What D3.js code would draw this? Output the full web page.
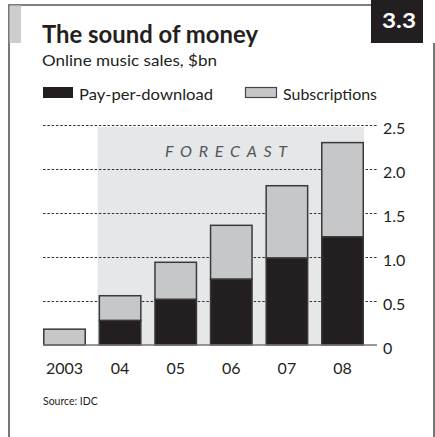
<!DOCTYPE html>
<html>
<head>
<meta charset="utf-8">
<script src="https://cdn.jsdelivr.net/npm/d3@7/dist/d3.min.js"></script>
<style>
  html, body { margin: 0; padding: 0; background: #fff; }
  svg { display: block; font-family: Lato, "Open Sans", sans-serif; }
</style>
</head>
<body>
<svg id="chart" width="435" height="437"></svg>
<script>
// Online music sales, $bn
const years = ["2003", "04", "05", "06", "07", "08"];
const payPerDownload = [0, 0.28, 0.52, 0.75, 0.99, 1.23];
const subscriptions = [0.18, 0.28, 0.42, 0.61, 0.82, 1.07];
const yTicks = [0, 0.5, 1.0, 1.5, 2.0, 2.5];
const forecastYears = ["04", "05", "06", "07", "08"];

const svg = d3.select("#chart");
const W = 435, H = 437;

const colBlack = "#231f20";
const colGrey = "#c6c7c8";
const colShade = "#e6e7e8";

// frame
const frame = svg.append("g");
frame.append("path")
  .attr("d", `M9,${H} V5 H371`)
  .attr("fill", "none").attr("stroke", "#555").attr("stroke-width", 1.6);
frame.append("path")
  .attr("d", `M434,43 V${H}`)
  .attr("fill", "none").attr("stroke", "#555").attr("stroke-width", 1.6);
frame.append("rect").attr("x", 9.5).attr("y", 5.5).attr("width", 11.5).attr("height", 37.5).attr("fill", "#cdcdcd");
frame.append("rect").attr("x", 371).attr("y", 0).attr("width", 52).attr("height", 43).attr("fill", colBlack);
frame.append("text").attr("x", 399).attr("y", 28).attr("text-anchor", "middle")
  .attr("fill", "#fff").attr("font-weight", 700).attr("font-size", 21)
  .attr("textLength", 34).attr("lengthAdjust", "spacingAndGlyphs").text("3.3");

// titles
svg.append("text").attr("x", 42).attr("y", 43)
  .attr("font-weight", 700).attr("font-size", 24).attr("fill", colBlack)
  .attr("textLength", 216).attr("lengthAdjust", "spacingAndGlyphs")
  .text("The sound of money");
svg.append("text").attr("x", 42).attr("y", 66)
  .attr("font-size", 16).attr("fill", colBlack)
  .attr("textLength", 175).attr("lengthAdjust", "spacingAndGlyphs")
  .text("Online music sales, $bn");

// legend
const legend = svg.append("g");
legend.append("rect").attr("x", 43).attr("y", 87).attr("width", 30).attr("height", 11).attr("fill", colBlack);
legend.append("text").attr("x", 79).attr("y", 100).attr("font-size", 16).attr("fill", colBlack)
  .attr("textLength", 134).attr("lengthAdjust", "spacingAndGlyphs").text("Pay-per-download");
legend.append("rect").attr("x", 245.5).attr("y", 87.5).attr("width", 31).attr("height", 10)
  .attr("fill", colGrey).attr("stroke", "#444").attr("stroke-width", 1.2);
legend.append("text").attr("x", 283).attr("y", 100).attr("font-size", 16).attr("fill", colBlack)
  .attr("textLength", 94).attr("lengthAdjust", "spacingAndGlyphs").text("Subscriptions");

// scales
const x = d3.scaleBand().domain(years).range([43, 364]).paddingInner(0.227).paddingOuter(0);
const y = d3.scaleLinear().domain([0, 2.5]).range([345, 125]);
const gridLeft = 43, gridRight = 377;

// forecast shading
const fx0 = x(forecastYears[0]) - 1;
const fx1 = x(forecastYears[forecastYears.length - 1]) + x.bandwidth();
svg.append("rect")
  .attr("x", fx0).attr("y", y(2.5) + 2)
  .attr("width", fx1 - fx0).attr("height", y(0) - y(2.5) - 2)
  .attr("fill", colShade);
svg.append("text")
  .attr("x", 165).attr("y", 157)
  .attr("font-style", "italic")
  .attr("font-size", 16).attr("fill", "#555")
  .attr("textLength", 122).attr("lengthAdjust", "spacing")
  .text("FORECAST");

// gridlines
svg.append("g").selectAll("line").data(yTicks.filter(d => d > 0)).join("line")
  .attr("x1", gridLeft).attr("x2", gridRight)
  .attr("y1", d => Math.round(y(d)) + 0.5).attr("y2", d => Math.round(y(d)) + 0.5)
  .attr("stroke", "#333").attr("stroke-width", 1).attr("stroke-dasharray", "2.5,1.8");

// y axis labels on the right
const yAxis = d3.axisRight(y).tickValues(yTicks)
  .tickFormat(d => d === 0 ? "0" : d3.format(".1f")(d))
  .tickSize(0).tickPadding(6);
const yg = svg.append("g").attr("transform", `translate(${gridRight},0)`).call(yAxis);
yg.select(".domain").remove();
yg.selectAll("text").attr("font-size", 16).attr("fill", colBlack).attr("dy", "0.55em")
  .attr("font-family", "Lato, 'Open Sans', sans-serif");

// stacked bars
const rows = years.map((yr, i) => ({ yr, pay: payPerDownload[i], sub: subscriptions[i] }));
const stack = d3.stack().keys(["pay", "sub"])(rows);
const fills = { pay: colBlack, sub: colGrey };
svg.append("g").selectAll("g").data(stack).join("g")
  .attr("fill", d => fills[d.key])
  .selectAll("rect").data(d => d.filter(s => s[1] - s[0] > 0)).join("rect")
  .attr("x", d => x(d.data.yr) + 0.75)
  .attr("y", d => y(d[1]))
  .attr("width", x.bandwidth() - 1.5)
  .attr("height", d => y(d[0]) - y(d[1]))
  .attr("stroke", "#3a3a3a").attr("stroke-width", 1.5);

// baseline
svg.append("line").attr("x1", gridLeft).attr("x2", gridRight)
  .attr("y1", y(0)).attr("y2", y(0)).attr("stroke", "#777").attr("stroke-width", 1.5);

// x axis labels
const xAxis = d3.axisBottom(x).tickSize(0).tickPadding(17.5);
const xg = svg.append("g").attr("transform", `translate(0,${y(0)})`).call(xAxis);
xg.select(".domain").remove();
xg.selectAll("text").attr("font-size", 16).attr("fill", colBlack)
  .attr("font-family", "Lato, 'Open Sans', sans-serif");

// source
svg.append("text").attr("x", 43).attr("y", 405).attr("font-size", 10.5).attr("fill", colBlack)
  .text("Source: IDC");
</script>
</body>
</html>
